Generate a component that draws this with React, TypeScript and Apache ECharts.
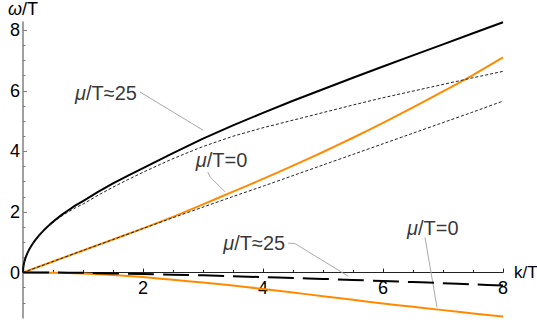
import React, { useEffect, useRef } from "react";
import * as echarts from "echarts";

// k/T grid for the curves with a square-root onset
const kFine = [0, 0.005, 0.01, 0.02, 0.035, 0.05, 0.075, 0.1, 0.15, 0.2, 0.275, 0.35, 0.45, 0.55, 0.65, 0.75, 0.875, 1, 1.25, 1.5, 1.75, 2, 2.5, 3, 3.5, 4, 4.5, 5, 5.5, 6, 6.5, 7, 7.5, 8];
// mu/T ~ 25, upper branch (solid black)
const omegaMu25Upper = [0, 0.168, 0.237, 0.335, 0.443, 0.53, 0.649, 0.749, 0.918, 1.06, 1.243, 1.402, 1.59, 1.758, 1.911, 2.05, 2.217, 2.36, 2.66, 2.94, 3.2, 3.45, 3.94, 4.42, 4.86, 5.27, 5.67, 6.05, 6.43, 6.8, 7.17, 7.53, 7.9, 8.26];
// approximation of the upper branch (thin dotted)
const omegaMu25UpperApprox = [0, 0.167, 0.236, 0.333, 0.44, 0.527, 0.645, 0.744, 0.91, 1.05, 1.23, 1.385, 1.565, 1.725, 1.87, 2.0, 2.14, 2.26, 2.55, 2.82, 3.07, 3.31, 3.76, 4.16, 4.5, 4.78, 5.03, 5.28, 5.53, 5.77, 5.99, 6.21, 6.43, 6.64];

// k/T grid for the near-linear curves
const kCoarse = [0, 0.5, 1, 1.5, 2, 2.5, 3, 3.5, 4, 4.5, 5, 5.5, 6, 6.5, 7, 7.5, 8];
// mu/T = 0, upper branch (solid orange)
const omegaMu0Upper = [0, 0.365, 0.73, 1.09, 1.46, 1.84, 2.25, 2.67, 3.09, 3.53, 3.98, 4.45, 4.94, 5.45, 5.98, 6.52, 7.1];
// approximation of mu/T = 0 upper branch (thin dotted)
const omegaMu0UpperApprox = [0, 0.365, 0.73, 1.09, 1.45, 1.81, 2.16, 2.51, 2.85, 3.2, 3.55, 3.9, 4.25, 4.6, 4.95, 5.3, 5.66];
// mu/T ~ 25, lower branch (long-dashed black)
const omegaMu25Lower = [0, 0, -0.01, -0.03, -0.05, -0.07, -0.09, -0.12, -0.15, -0.18, -0.21, -0.245, -0.28, -0.315, -0.35, -0.39, -0.43];
// mu/T = 0, lower branch (solid orange)
const omegaMu0Lower = [0, -0.01, -0.03, -0.08, -0.15, -0.24, -0.33, -0.43, -0.54, -0.66, -0.78, -0.9, -1.02, -1.13, -1.24, -1.35, -1.45];

// ticks
const xTickValues = [2, 4, 6, 8];
const yTickValues = [0, 2, 4, 6, 8];
const yMinorTickValues = [-1, -0.5, 0.5, 1, 1.5, 2.5, 3, 3.5, 4.5, 5, 5.5, 6.5, 7, 7.5];

// annotations (data coordinates)
const annotationTexts = ["{i|\u03bc}/T\u224825", "{i|\u03bc}/T=0", "{i|\u03bc}/T\u224825", "{i|\u03bc}/T=0"];
const annotationAnchors = [[1.9, 5.92], [3.31, 3.71], [4.37, 0.97], [6.83, 1.47]];
const annotationAligns = ["right", "center", "right", "center"];
const leaderLines = [
  [[1.95, 5.96], [3.0, 4.7]],
  [[3.08, 3.32], [3.12, 3.15], [3.37, 2.66]],
  [[4.42, 0.97], [4.53, 0.96], [5.42, -0.12]],
  [[6.7, 1.16], [6.9, -1.15]],
];

const FONT = "'Liberation Sans', Arial, sans-serif";
const ORANGE = "#ff8a00";
const Y_MIN = -1.5;
const Y_MAX = 8.27;
const GRID_TOP = 22;
const GRID_H = 296;

const pairs = (xs: number[], ys: number[]) => xs.map((x, i) => [x, ys[i]]);

export default function App() {
  const ref = useRef<HTMLDivElement>(null);
  useEffect(() => {
    if (!ref.current) return;
    const chart = echarts.init(ref.current, undefined, { renderer: "svg" });
    const curve = (data: number[][], color: string, width: number, type: any, smooth: number | boolean, z = 2) => ({
      type: "line",
      data,
      showSymbol: false,
      symbol: "none",
      smooth,
      lineStyle: { color, width, type, join: "round" },
      z,
      silent: true,
    });
    // distance from the grid bottom up to the zero line
    const zeroOffset = -((0 - Y_MIN) / (Y_MAX - Y_MIN)) * GRID_H;
    const option: any = {
      animation: false,
      grid: { left: 23, top: GRID_TOP, width: 480, height: GRID_H, containLabel: false, outerBoundsMode: "none" },
      xAxis: {
        type: "value",
        min: 0,
        max: 8,
        interval: 2,
        position: "bottom",
        offset: zeroOffset,
        name: "k/T",
        nameLocation: "end",
        nameGap: 2,
        nameTextStyle: { fontFamily: FONT, fontSize: 17, color: "#000", verticalAlign: "middle", padding: 0 },
        axisLine: { onZero: false, lineStyle: { color: "#222", width: 1 } },
        axisTick: { show: true, inside: true, length: 4, lineStyle: { color: "#222" } },
        minorTick: { show: true, splitNumber: 4, length: 2.5, lineStyle: { color: "#222" } },
        axisLabel: {
          showMinLabel: false,
          margin: 6,
          fontFamily: FONT,
          fontSize: 18,
          color: "#000",
          formatter: (v: number) => (xTickValues.includes(v) ? String(v) : ""),
        },
        splitLine: { show: false },
      },
      yAxis: [
        {
          type: "value",
          min: Y_MIN,
          max: Y_MAX,
          name: "{i|\u03c9}/T",
          nameLocation: "end",
          nameGap: 4,
          nameTextStyle: {
            fontFamily: FONT,
            fontSize: 18,
            color: "#000",
            rich: { i: { fontStyle: "italic", fontFamily: FONT, fontSize: 18 } },
          },
          axisLine: { onZero: false, lineStyle: { color: "#808080", width: 1.5 } },
          axisTick: { show: true, inside: true, length: 4, customValues: yTickValues, lineStyle: { color: "#808080" } },
          axisLabel: {
            customValues: yTickValues,
            margin: 3,
            fontFamily: FONT,
            fontSize: 18,
            color: "#000",
          },
          splitLine: { show: false },
        },
        {
          type: "value",
          min: Y_MIN,
          max: Y_MAX,
          position: "left",
          axisLine: { show: false, onZero: false },
          axisTick: { show: true, inside: true, length: 2.5, customValues: yMinorTickValues, lineStyle: { color: "#808080" } },
          axisLabel: { show: false },
          splitLine: { show: false },
        },
      ],
      series: [
        ...leaderLines.map((pts) => ({
          type: "line",
          data: pts,
          showSymbol: false,
          symbol: "none",
          lineStyle: { color: "#aaaaaa", width: 1 },
          z: 1,
          silent: true,
        })),
        curve(pairs(kCoarse, omegaMu0Upper), ORANGE, 2, "solid", 0.2),
        curve(pairs(kCoarse, omegaMu0Lower), ORANGE, 2, "solid", 0.2),
        curve(pairs(kFine, omegaMu25Upper), "#000", 2, "solid", false),
        curve(pairs(kFine, omegaMu25UpperApprox), "#222", 1, [3, 2], false, 3),
        curve(pairs(kCoarse, omegaMu0UpperApprox), "#222", 1, [3, 2], 0.2, 3),
        curve(pairs(kCoarse, omegaMu25Lower), "#000", 2, [26, 9], 0.2),
        {
          type: "scatter",
          symbolSize: 0,
          silent: true,
          data: annotationAnchors.map((p, i) => ({
            value: p,
            label: {
              show: true,
              position: [0, 0],
              align: annotationAligns[i],
              verticalAlign: "middle",
              formatter: annotationTexts[i],
              fontFamily: FONT,
              fontSize: 20,
              color: "#000",
              rich: { i: { fontStyle: "italic", fontFamily: FONT, fontSize: 20, color: "#000" } },
            },
          })),
        },
      ],
    };
    chart.setOption(option);
    return () => chart.dispose();
  }, []);
  return (
    <div
      ref={ref}
      style={{ position: "fixed", left: 0, top: 0, width: 537, height: 324, background: "#fff" }}
    />
  );
}
